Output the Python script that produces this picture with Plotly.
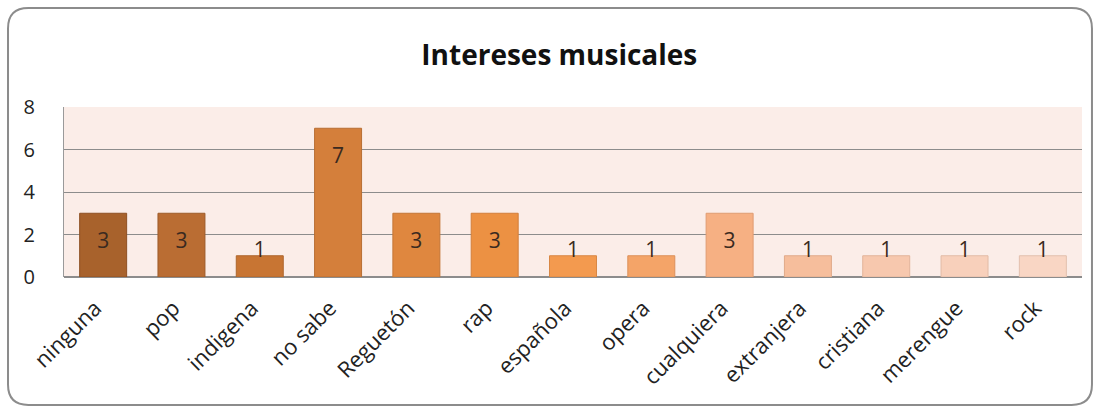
import plotly.graph_objects as go

# Datos del gráfico
categorias = ["ninguna", "pop", "indigena", "no sabe", "Reguetón", "rap", "española",
              "opera", "cualquiera", "extranjera", "cristiana", "merengue", "rock"]
valores = [3, 3, 1, 7, 3, 3, 1, 1, 3, 1, 1, 1, 1]
colores = ["#A8622C", "#BA6D33", "#C87533", "#D47F3B", "#DF873F", "#EC9143", "#F39A4F",
           "#F4A468", "#F6B083", "#F6BE9C", "#F7C8AE", "#F8D0BB", "#F9D6C4"]
bordes = ["#8E5024", "#9E5C2A", "#AE662C", "#B86E33", "#C47636", "#D27E3A", "#D88744",
          "#DC915A", "#E09C72", "#E0AA8A", "#E2B49A", "#E2BBA6", "#E2C0AE"]
titulo = "Intereses musicales"

fuente = "'Open Sans', Lato, sans-serif"

fig = go.Figure()
fig.add_trace(go.Bar(
    x=categorias,
    y=valores,
    marker=dict(color=colores, line=dict(color=bordes, width=1)),
    hoverinfo="x+y",
))

# Etiquetas de valor (dentro de la barra, o encima del borde si es pequeña)
pos_etiqueta = [v - 1.4 if v > 2 else v + 0.2 for v in valores]
fig.add_trace(go.Scatter(
    x=categorias,
    y=pos_etiqueta,
    mode="text",
    text=[str(v) for v in valores],
    textfont=dict(family=fuente, size=21, color="#3a2a20"),
    hoverinfo="skip",
))

# Marco redondeado alrededor de todo el gráfico (coordenadas relativas al área de trazado)
x0, x1, y0, y1 = -0.055, 1.0098, -0.753, 1.582
rx, ry = 0.02, 0.12
marco = (f"M {x0+rx} {y1} L {x1-rx} {y1} Q {x1} {y1} {x1} {y1-ry} "
         f"L {x1} {y0+ry} Q {x1} {y0} {x1-rx} {y0} "
         f"L {x0+rx} {y0} Q {x0} {y0} {x0} {y0+ry} "
         f"L {x0} {y1-ry} Q {x0} {y1} {x0+rx} {y1} Z")

fig.update_layout(
    width=1101,
    height=412,
    margin=dict(l=64, r=19, t=107, b=135),
    paper_bgcolor="white",
    plot_bgcolor="#FBEDE8",
    showlegend=False,
    font=dict(family=fuente, size=20, color="#222222"),
    title=dict(text=f"<b>{titulo}</b>", x=0.508, xref="container", xanchor="center",
               y=0.865, yref="container", yanchor="middle",
               font=dict(family=fuente, size=28, color="#111111")),
    bargap=0.4,
    shapes=[dict(type="path", path=marco, xref="paper", yref="paper",
                 line=dict(color="#8C8C8C", width=2), layer="below")],
)
fig.update_xaxes(
    range=[-0.5, len(categorias) - 0.5],
    tickangle=-45,
    tickfont=dict(family=fuente, size=22, color="#222222"),
    showgrid=False,
    showline=False,
    ticks="",
    ticklabelstandoff=13,
    ticklabelshift=-8,
    automargin=False,
)
fig.update_yaxes(
    range=[0, 8],
    dtick=2,
    tickfont=dict(family=fuente, size=20, color="#222222"),
    showgrid=True,
    gridcolor="#8C8C8C",
    gridwidth=1,
    zeroline=True,
    zerolinecolor="#8C8C8C",
    showline=True,
    linecolor="#9A9A9A",
    ticks="",
    ticklabelstandoff=24,
    automargin=False,
)

# Quitar el margen por defecto del body para que el gráfico ocupe la ventana exacta
fig.write_html("out.html", config={"displayModeBar": False},
               post_script="document.body.style.margin='0';")
